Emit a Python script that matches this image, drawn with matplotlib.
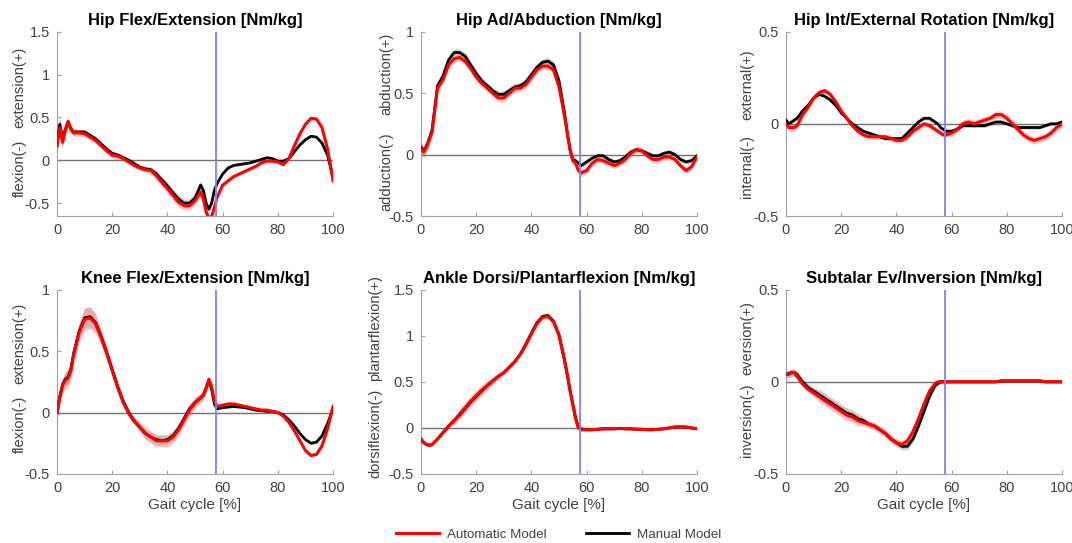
import matplotlib.pyplot as plt

plt.rcParams['font.family'] = ['Liberation Sans', 'DejaVu Sans']

# gait cycle samples [%]
gait = [0, 1, 2, 3, 4, 5, 6, 8, 10, 12, 14, 16, 18, 20, 22, 24, 26, 28, 30, 32, 34, 36, 38, 40,
        42, 44, 46, 48, 50, 52, 53, 54, 55, 56, 57, 58, 60, 62, 64, 66, 68, 70, 72, 74, 76, 78,
        80, 82, 84, 86, 88, 90, 92, 94, 96, 98, 100]
toe_off = 57.5

# Hip flexion/extension
hip_flex_auto = [0.17, 0.38, 0.21, 0.35, 0.45, 0.36, 0.32, 0.32, 0.31, 0.27, 0.23, 0.17, 0.11, 0.06,
                 0.05, 0.02, -0.02, -0.06, -0.09, -0.11, -0.12, -0.18, -0.26, -0.33, -0.41, -0.49,
                 -0.53, -0.53, -0.47, -0.37, -0.45, -0.60, -0.68, -0.66, -0.55, -0.43, -0.29, -0.24,
                 -0.19, -0.16, -0.13, -0.10, -0.07, -0.03, -0.01, -0.01, -0.02, -0.05, 0.02, 0.17,
                 0.31, 0.42, 0.49, 0.48, 0.38, 0.13, -0.24]
hip_flex_manual = [0.22, 0.42, 0.25, 0.36, 0.45, 0.37, 0.33, 0.33, 0.33, 0.29, 0.25, 0.19, 0.13, 0.08,
                   0.06, 0.03, 0.00, -0.04, -0.08, -0.10, -0.11, -0.16, -0.23, -0.30, -0.38, -0.45,
                   -0.50, -0.50, -0.44, -0.29, -0.35, -0.50, -0.57, -0.50, -0.35, -0.27, -0.16, -0.09,
                   -0.06, -0.05, -0.04, -0.03, -0.01, 0.01, 0.03, 0.02, -0.01, -0.01, 0.02, 0.10,
                   0.18, 0.24, 0.28, 0.27, 0.20, 0.06, -0.20]
hip_flex_auto_sd = ([0.12, 0.10, 0.08, 0.06, 0.05, 0.05, 0.04]
                    + [0.04, 0.04, 0.04, 0.04, 0.04, 0.04, 0.04, 0.04, 0.03, 0.03, 0.03, 0.03, 0.03,
                       0.04, 0.05, 0.05, 0.06, 0.06, 0.06, 0.05, 0.05, 0.05]
                    + [0.05, 0.05, 0.05, 0.05, 0.04, 0.03, 0.02] + [0.02] * 21)
hip_flex_manual_sd = ([0.14, 0.10, 0.08, 0.06, 0.05, 0.04, 0.04]
                      + [0.03, 0.03, 0.03, 0.03, 0.03, 0.03, 0.03, 0.03, 0.03, 0.03, 0.03, 0.03, 0.03,
                         0.03, 0.04, 0.04, 0.05, 0.05, 0.05, 0.05, 0.05, 0.05]
                      + [0.05, 0.05, 0.04, 0.04, 0.03, 0.02, 0.02] + [0.015] * 21)

# Hip ad/abduction
hip_add_auto = [0.05, 0.02, 0.06, 0.12, 0.18, 0.36, 0.54, 0.61, 0.73, 0.78, 0.79, 0.76, 0.70, 0.63,
                0.58, 0.54, 0.50, 0.46, 0.46, 0.50, 0.54, 0.54, 0.57, 0.63, 0.69, 0.72, 0.72, 0.69,
                0.55, 0.31, 0.17, 0.04, -0.05, -0.07, -0.13, -0.15, -0.13, -0.07, -0.04, -0.05,
                -0.07, -0.09, -0.07, -0.04, 0.01, 0.04, 0.03, -0.01, -0.04, -0.04, -0.02, -0.02,
                -0.04, -0.09, -0.13, -0.10, -0.02]
hip_add_manual = [0.06, 0.03, 0.07, 0.13, 0.20, 0.38, 0.56, 0.64, 0.77, 0.83, 0.83, 0.80, 0.73, 0.66,
                  0.60, 0.56, 0.52, 0.49, 0.49, 0.52, 0.55, 0.56, 0.59, 0.65, 0.71, 0.75, 0.76, 0.73,
                  0.60, 0.34, 0.18, 0.04, -0.04, -0.05, -0.07, -0.09, -0.06, -0.03, -0.01, -0.01,
                  -0.04, -0.06, -0.05, -0.02, 0.02, 0.04, 0.03, 0.01, -0.01, -0.01, 0.01, 0.02,
                  0.00, -0.04, -0.06, -0.05, -0.01]
hip_add_auto_sd = [0.05, 0.05, 0.05, 0.05, 0.04, 0.03, 0.03] + [0.03] * 22 + [0.03] * 7 + [0.025] * 21
hip_add_manual_sd = [0.04, 0.04, 0.04, 0.04, 0.03, 0.03, 0.03] + [0.03] * 22 + [0.02] * 7 + [0.02] * 21

# Hip internal/external rotation
hip_rot_auto = [0.00, -0.02, -0.02, -0.02, -0.01, 0.02, 0.05, 0.09, 0.14, 0.17, 0.18, 0.16, 0.12,
                0.07, 0.03, -0.01, -0.04, -0.06, -0.07, -0.07, -0.07, -0.07, -0.08, -0.09, -0.09,
                -0.07, -0.04, -0.02, 0.00, -0.01, -0.02, -0.03, -0.04, -0.05, -0.06, -0.06, -0.05,
                -0.03, 0.00, 0.01, 0.00, 0.01, 0.02, 0.03, 0.05, 0.05, 0.03, 0.00, -0.03, -0.06,
                -0.08, -0.09, -0.08, -0.07, -0.05, -0.02, 0.00]
hip_rot_manual = [0.02, 0.00, 0.01, 0.02, 0.03, 0.05, 0.07, 0.10, 0.14, 0.16, 0.15, 0.13, 0.10,
                  0.06, 0.03, 0.00, -0.02, -0.04, -0.05, -0.06, -0.07, -0.08, -0.08, -0.08, -0.08,
                  -0.05, -0.02, 0.01, 0.03, 0.03, 0.02, 0.01, 0.00, -0.02, -0.03, -0.04, -0.04,
                  -0.03, -0.01, -0.01, -0.01, -0.01, -0.01, 0.00, 0.01, 0.01, 0.00, -0.01, -0.02,
                  -0.02, -0.02, -0.02, -0.02, -0.01, 0.00, 0.00, 0.01]
hip_rot_auto_sd = [0.02] * 7 + [0.015] * 22 + [0.015] * 7 + [0.02] * 21
hip_rot_manual_sd = [0.01] * 7 + [0.01] * 22 + [0.01] * 7 + [0.01] * 21

# Knee flexion/extension
knee_auto = [0.00, 0.12, 0.22, 0.26, 0.28, 0.34, 0.47, 0.65, 0.76, 0.77, 0.72, 0.61, 0.48, 0.34,
             0.20, 0.08, -0.01, -0.07, -0.12, -0.17, -0.20, -0.23, -0.23, -0.23, -0.20, -0.14,
             -0.06, 0.02, 0.08, 0.12, 0.14, 0.20, 0.27, 0.21, 0.10, 0.05, 0.06, 0.07, 0.07, 0.06,
             0.05, 0.04, 0.03, 0.02, 0.02, 0.01, 0.00, -0.03, -0.08, -0.15, -0.23, -0.31, -0.35,
             -0.34, -0.27, -0.13, 0.05]
knee_manual = [0.00, 0.13, 0.23, 0.27, 0.29, 0.35, 0.48, 0.66, 0.77, 0.78, 0.73, 0.62, 0.49, 0.35,
               0.21, 0.09, 0.00, -0.07, -0.12, -0.17, -0.20, -0.22, -0.23, -0.22, -0.19, -0.13,
               -0.05, 0.03, 0.08, 0.12, 0.14, 0.20, 0.26, 0.19, 0.07, 0.03, 0.04, 0.045, 0.05, 0.045,
               0.04, 0.03, 0.02, 0.015, 0.01, 0.01, 0.00, -0.02, -0.06, -0.11, -0.17, -0.22, -0.25,
               -0.24, -0.19, -0.09, 0.03]
knee_auto_sd = ([0.06, 0.06, 0.06, 0.07, 0.07, 0.07, 0.07]
                + [0.08, 0.09, 0.09, 0.08, 0.06, 0.05, 0.04, 0.04, 0.03, 0.03, 0.03, 0.04, 0.05,
                   0.05, 0.05, 0.05, 0.05, 0.05, 0.05, 0.05, 0.05, 0.05]
                + [0.04, 0.04, 0.04, 0.04, 0.03, 0.02, 0.01] + [0.01] * 21)
knee_manual_sd = ([0.05, 0.05, 0.05, 0.06, 0.06, 0.06, 0.06]
                  + [0.07, 0.08, 0.08, 0.07, 0.05, 0.04, 0.03, 0.03, 0.03, 0.03, 0.03, 0.03, 0.04,
                     0.04, 0.04, 0.04, 0.04, 0.04, 0.04, 0.04, 0.04, 0.04]
                  + [0.03, 0.03, 0.03, 0.03, 0.02, 0.01, 0.01] + [0.01] * 21)

# Ankle dorsi/plantarflexion
ankle_auto = [-0.12, -0.16, -0.18, -0.19, -0.18, -0.15, -0.12, -0.05, 0.02, 0.08, 0.15, 0.22, 0.29,
              0.35, 0.41, 0.46, 0.51, 0.56, 0.60, 0.66, 0.72, 0.80, 0.90, 1.02, 1.13, 1.20, 1.21,
              1.15, 1.00, 0.73, 0.57, 0.40, 0.25, 0.10, 0.00, -0.02, -0.02, -0.02, -0.015, -0.01,
              -0.01, -0.01, -0.005, -0.01, -0.01, -0.015, -0.015, -0.02, -0.02, -0.015, -0.01,
              0.00, 0.01, 0.01, 0.01, 0.00, -0.01]
ankle_manual = [-0.12, -0.16, -0.18, -0.19, -0.18, -0.15, -0.12, -0.05, 0.02, 0.08, 0.14, 0.21, 0.28,
                0.34, 0.40, 0.46, 0.51, 0.56, 0.60, 0.66, 0.72, 0.80, 0.91, 1.03, 1.14, 1.21, 1.22,
                1.16, 1.01, 0.74, 0.58, 0.41, 0.26, 0.11, 0.01, -0.01, -0.02, -0.02, -0.015, -0.01,
                -0.01, -0.01, -0.005, -0.01, -0.01, -0.015, -0.015, -0.02, -0.02, -0.015, -0.01,
                0.00, 0.01, 0.01, 0.01, 0.00, -0.01]
ankle_auto_sd = ([0.02] * 7
                 + [0.02, 0.03, 0.04, 0.05, 0.06, 0.06, 0.06, 0.06, 0.05, 0.04, 0.03, 0.02, 0.02,
                    0.02, 0.02, 0.02, 0.02, 0.02, 0.02, 0.02, 0.02, 0.02]
                 + [0.02] * 7 + [0.01] * 21)
ankle_manual_sd = ([0.01] * 7
                   + [0.01, 0.02, 0.03, 0.04, 0.04, 0.04, 0.04, 0.04, 0.03, 0.03, 0.02, 0.02, 0.02,
                      0.02, 0.02, 0.02, 0.02, 0.02, 0.02, 0.02, 0.02, 0.02]
                   + [0.01] * 7 + [0.005] * 21)

# Subtalar ev/inversion
subtalar_auto = [0.04, 0.04, 0.05, 0.05, 0.03, 0.01, -0.01, -0.04, -0.06, -0.08, -0.10, -0.12,
                 -0.14, -0.16, -0.18, -0.19, -0.21, -0.22, -0.23, -0.24, -0.26, -0.28, -0.31, -0.33,
                 -0.34, -0.32, -0.27, -0.20, -0.12, -0.05, -0.03, -0.01, 0.00, 0.00, 0.00, 0.00,
                 0.00, 0.00, 0.00, 0.00, 0.00, 0.00, 0.00, 0.00, 0.00, 0.005, 0.005, 0.005, 0.005,
                 0.005, 0.005, 0.005, 0.005, 0.00, 0.00, 0.00, 0.00]
subtalar_manual = [0.04, 0.045, 0.05, 0.05, 0.04, 0.02, 0.00, -0.03, -0.05, -0.07, -0.09, -0.11,
                   -0.13, -0.15, -0.17, -0.18, -0.20, -0.21, -0.23, -0.24, -0.26, -0.28, -0.31,
                   -0.33, -0.35, -0.35, -0.31, -0.24, -0.16, -0.08, -0.05, -0.02, -0.01, 0.00, 0.00,
                   0.00, 0.00, 0.00, 0.00, 0.00, 0.00, 0.00, 0.00, 0.00, 0.00, 0.005, 0.005, 0.005,
                   0.005, 0.005, 0.005, 0.005, 0.005, 0.00, 0.00, 0.00, 0.00]
subtalar_auto_sd = ([0.02] * 7
                    + [0.02, 0.02, 0.03, 0.03, 0.03, 0.03, 0.03, 0.03, 0.03, 0.03, 0.02, 0.02, 0.02,
                       0.02, 0.02, 0.02, 0.02, 0.02, 0.02, 0.02, 0.02, 0.02]
                    + [0.01] * 7 + [0.005] * 21)
subtalar_manual_sd = ([0.02] * 7
                      + [0.02, 0.02, 0.03, 0.03, 0.03, 0.03, 0.03, 0.03, 0.03, 0.03, 0.02, 0.02, 0.02,
                         0.02, 0.02, 0.02, 0.02, 0.02, 0.02, 0.02, 0.02, 0.02]
                      + [0.01] * 7 + [0.005] * 21)

titles = ['Hip Flex/Extension [Nm/kg]', 'Hip Ad/Abduction [Nm/kg]',
          'Hip Int/External Rotation [Nm/kg]', 'Knee Flex/Extension [Nm/kg]',
          'Ankle Dorsi/Plantarflexion [Nm/kg]', 'Subtalar Ev/Inversion [Nm/kg]']
pos_labels = ['extension(+)', 'abduction(+)', 'external(+)', 'extension(+)',
              'plantarflexion(+)', 'eversion(+)']
neg_labels = ['flexion(-)', 'adduction(-)', 'internal(-)', 'flexion(-)',
              'dorsiflexion(-)', 'inversion(-)']
ylims = [(-0.65, 1.5), (-0.5, 1), (-0.5, 0.5), (-0.5, 1), (-0.5, 1.5), (-0.5, 0.5)]
yticks = [[-0.5, 0, 0.5, 1, 1.5], [-0.5, 0, 0.5, 1], [-0.5, 0, 0.5],
          [-0.5, 0, 0.5, 1], [-0.5, 0, 0.5, 1, 1.5], [-0.5, 0, 0.5]]
xticks = [0, 20, 40, 60, 80, 100]

auto_data = [hip_flex_auto, hip_add_auto, hip_rot_auto, knee_auto, ankle_auto, subtalar_auto]
manual_data = [hip_flex_manual, hip_add_manual, hip_rot_manual, knee_manual, ankle_manual,
               subtalar_manual]
auto_sd = [hip_flex_auto_sd, hip_add_auto_sd, hip_rot_auto_sd, knee_auto_sd, ankle_auto_sd,
           subtalar_auto_sd]
manual_sd = [hip_flex_manual_sd, hip_add_manual_sd, hip_rot_manual_sd, knee_manual_sd,
             ankle_manual_sd, subtalar_manual_sd]

# label positions (axes fraction) and axes placement (figure fraction)
pos_frac = [0.70, 0.77, 0.71, 0.71, 0.79, 0.74]
neg_frac = [0.26, 0.24, 0.27, 0.27, 0.22, 0.29]
label_x = [-0.135, -0.125, -0.14, -0.135, -0.165, -0.14]
lefts = [0.0532, 0.3927, 0.7332]
bottoms = [0.6022, 0.1271]
width, height = 0.2575, 0.3395

tick_col = '#404040'
spine_col = '#a0a0a0'

fig = plt.figure(figsize=(10.72, 5.43), dpi=100)

for i in range(6):
    row, col = divmod(i, 3)
    ax = fig.add_axes([lefts[col], bottoms[row], width, height])
    m = manual_data[i]
    a = auto_data[i]
    ax.fill_between(gait, [v - s for v, s in zip(m, manual_sd[i])],
                    [v + s for v, s in zip(m, manual_sd[i])],
                    color='#a8a8a8', alpha=0.5, lw=0)
    ax.fill_between(gait, [v - s for v, s in zip(a, auto_sd[i])],
                    [v + s for v, s in zip(a, auto_sd[i])],
                    color='#f08080', alpha=0.45, lw=0)
    ax.axhline(0, color='#707070', lw=1, zorder=2)
    ax.axvline(toe_off, color='#8080ff', lw=1.3, zorder=5)
    ax.plot(gait, m, color='black', lw=2, zorder=3, label='Manual Model')
    ax.plot(gait, a, color='#ff0000', lw=2.2, zorder=4, label='Automatic Model')

    ax.set_xlim(0, 100)
    ax.set_ylim(*ylims[i])
    ax.set_xticks(xticks)
    ax.set_yticks(yticks[i])
    ax.set_yticklabels(['%g' % t for t in yticks[i]])
    ax.tick_params(direction='in', length=3, color=spine_col, labelcolor=tick_col,
                   labelsize=10.5, pad=5)
    for side in ['top', 'right']:
        ax.spines[side].set_visible(False)
    for side in ['left', 'bottom']:
        ax.spines[side].set_color(spine_col)
    ax.set_title(titles[i], fontsize=12, fontweight='bold', pad=5)
    ax.text(label_x[i], pos_frac[i], pos_labels[i], transform=ax.transAxes, rotation=90,
            ha='center', va='center', fontsize=10.5, color=tick_col)
    ax.text(label_x[i], neg_frac[i], neg_labels[i], transform=ax.transAxes, rotation=90,
            ha='center', va='center', fontsize=10.5, color=tick_col)
    if row == 1:
        ax.set_xlabel('Gait cycle [%]', fontsize=11, color=tick_col, labelpad=2)
    if i == 0:
        handles, labels = ax.get_legend_handles_labels()

fig.legend(handles[::-1], labels[::-1], loc='center', bbox_to_anchor=(0.521, 0.015), ncol=2,
           frameon=False, fontsize=9.6, handlelength=3.2, handletextpad=0.6,
           columnspacing=3.0, labelcolor=tick_col)

plt.savefig('out.png', dpi=100)
